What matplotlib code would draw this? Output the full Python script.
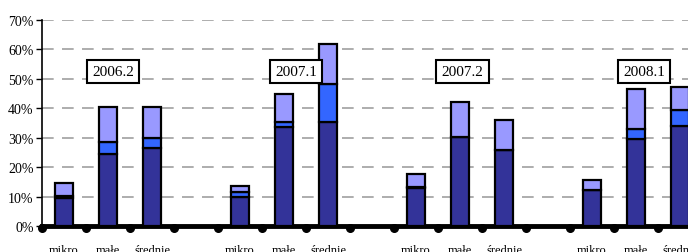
import numpy as np
import matplotlib
matplotlib.use("Agg")
from matplotlib import pyplot as plt

# categories, 4 periods x (mikro, male, srednie) + empty slot between periods
periods = ["2006.2", "2007.1", "2007.2", "2008.1"]
sizes = ["mikro", "małe", "średnie"]

# stacked values (fractions), per period: mikro, male, srednie
dark = [[0.095, 0.246, 0.265],
        [0.097, 0.335, 0.354],
        [0.130, 0.301, 0.259],
        [0.122, 0.297, 0.340]]
mid = [[0.007, 0.040, 0.035],
       [0.019, 0.019, 0.127],
       [0.004, 0.000, 0.000],
       [0.000, 0.032, 0.054]]
light = [[0.043, 0.120, 0.106],
         [0.021, 0.093, 0.136],
         [0.042, 0.120, 0.100],
         [0.034, 0.138, 0.080]]

plt.rcParams['font.family'] = ['Liberation Serif', 'DejaVu Serif']

fig = plt.figure(figsize=(6.88, 2.53), dpi=100)
ax = fig.add_axes([42/688, 26/253, 1 - 42/688, 206/253])

xs = []
for g in range(len(periods)):
    for k in range(len(sizes)):
        xs.append(g*4 + k)
xs = np.array(xs)
d = np.array(dark).ravel()
m = np.array(mid).ravel()
l = np.array(light).ravel()

w = 0.39
kw = dict(width=w, edgecolor='black', linewidth=1.6, zorder=3)
ax.bar(xs, d, color='#333399', **kw)
ax.bar(xs, m, bottom=d, color='#3366FF', **kw)
ax.bar(xs, l, bottom=d + m, color='#9999FF', **kw)

ax.set_ylim(0, 0.7)
ax.set_xlim(-0.5, 14.18)
ax.set_yticks(np.arange(0, 0.71, 0.1))
ax.set_yticklabels(["%d%%" % v for v in range(0, 71, 10)], fontsize=10)
ax.yaxis.grid(True, linestyle=(0, (7, 5)), color='#a0a0a0', linewidth=1.2)
ax.set_axisbelow(True)
ax.tick_params(axis='y', length=4, width=1, pad=2)

ax.set_xticks(xs)
ax.set_xticklabels(sizes * len(periods), fontsize=9)
ax.tick_params(axis='x', length=0, pad=13)

for s in ['top', 'right']:
    ax.spines[s].set_visible(False)
ax.spines['left'].set_linewidth(1.2)
ax.spines['bottom'].set_linewidth(3.5)

bounds = np.arange(-0.5, 15, 1.0)
ax.scatter(bounds, np.full(len(bounds), -0.008), s=30, color='black',
           clip_on=False, zorder=5)

label_x = [1.11, 5.27, 9.05, 13.18]
for px, txt in zip(label_x, periods):
    ax.text(px, 0.525, txt, ha='center', va='center', fontsize=11, zorder=6,
            bbox=dict(boxstyle='square,pad=0.35', facecolor='white',
                      edgecolor='black', linewidth=1.5))

fig.savefig("out.png", dpi=100)
